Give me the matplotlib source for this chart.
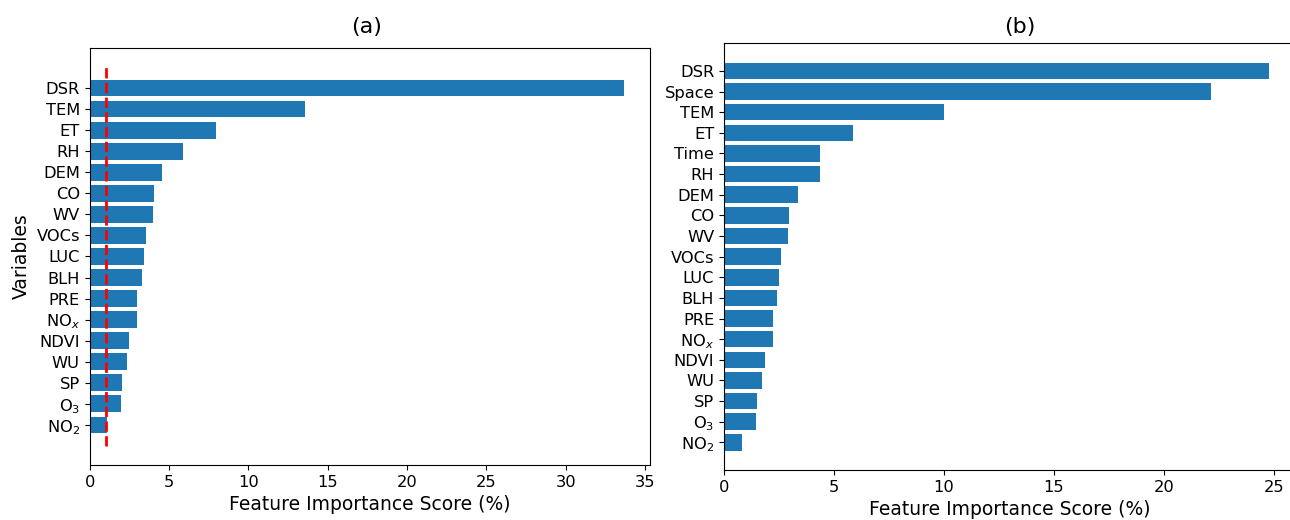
import numpy as np
import matplotlib.pyplot as plt

# Importancia de variables, de mayor a menor
vars_a = ['DSR', 'TEM', 'ET', 'RH', 'DEM', 'CO', 'WV', 'VOCs', 'LUC', 'BLH',
          'PRE', 'NO$_x$', 'NDVI', 'WU', 'SP', 'O$_3$', 'NO$_2$']
score_a = [33.65, 13.56, 7.95, 5.91, 4.56, 4.04, 3.97, 3.53, 3.41, 3.30,
           3.00, 3.00, 2.50, 2.33, 2.02, 1.96, 1.11]

vars_b = ['DSR', 'Space', 'TEM', 'ET', 'Time', 'RH', 'DEM', 'CO', 'WV', 'VOCs',
          'LUC', 'BLH', 'PRE', 'NO$_x$', 'NDVI', 'WU', 'SP', 'O$_3$', 'NO$_2$']
score_b = [24.77, 22.15, 9.99, 5.85, 4.35, 4.35, 3.35, 2.97, 2.92, 2.61,
           2.50, 2.42, 2.21, 2.21, 1.85, 1.71, 1.49, 1.44, 0.80]

threshold = 1.0

fig = plt.figure(figsize=(12.9, 5.2), dpi=100)
ax1 = fig.add_axes([0.0695, 0.1058, 0.4347, 0.8019])
ax2 = fig.add_axes([0.5612, 0.0962, 0.4434, 0.8206])

# (a) modelo sin variables espacio-temporales
pos_a = np.arange(len(vars_a))[::-1]
ax1.barh(pos_a, score_a, color='#1f77b4')
ax1.vlines(threshold, -1, len(vars_a), colors='red', linestyles='--', linewidth=2)
ax1.set_yticks(pos_a)
ax1.set_yticklabels(vars_a, fontsize=11.7)
ax1.tick_params(axis='x', labelsize=11.7)
ax1.set_xlabel('Feature Importance Score (%)', fontsize=13.5)
ax1.set_ylabel('Variables', fontsize=13.5)
ax1.set_title('(a)', fontsize=16, pad=11, x=0.494)

# (b) modelo con Space y Time
pos_b = np.arange(len(vars_b))[::-1]
ax2.barh(pos_b, score_b, color='#1f77b4')
ax2.set_yticks(pos_b)
ax2.set_yticklabels(vars_b, fontsize=11.7)
ax2.tick_params(axis='x', labelsize=11.7)
ax2.set_xlabel('Feature Importance Score (%)', fontsize=13.5)
ax2.set_title('(b)', fontsize=16, pad=7.5, x=0.517)

plt.savefig('out.png', dpi=100)
plt.close()
